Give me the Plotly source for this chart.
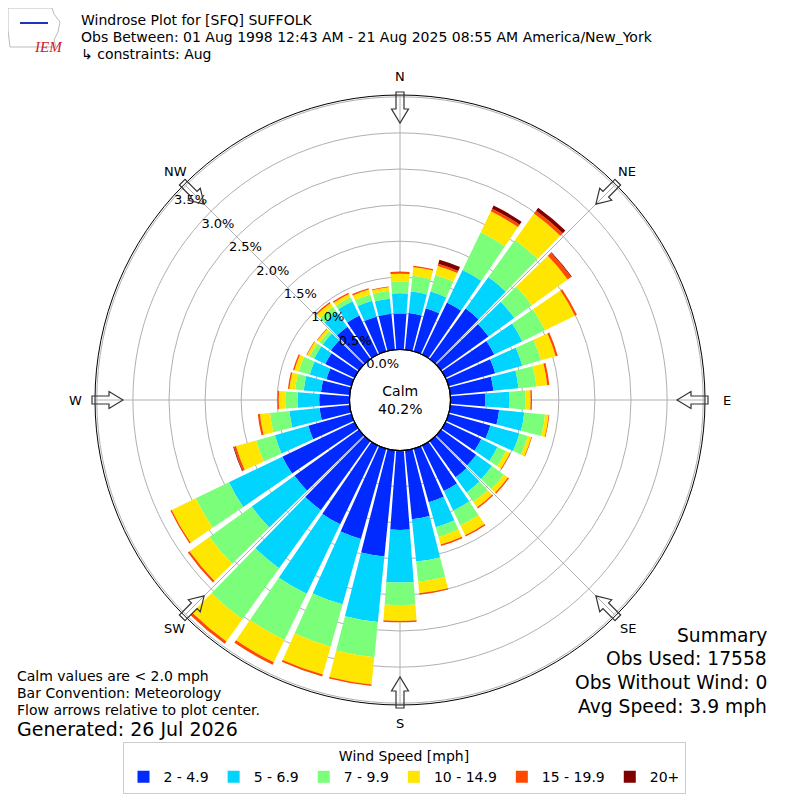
import math
import plotly.graph_objects as go

# wind directions (deg, meteorological) and percent of obs per speed bin
directions = list(range(0, 360, 10))

spd_2_5 = [0.50, 0.51, 0.62, 0.80, 0.86, 0.81, 0.75, 0.67, 0.60, 0.48, 0.68, 0.60,
           0.55, 0.60, 0.62, 0.70, 0.77, 0.96, 1.10, 1.48, 1.30, 1.21, 1.18, 1.10,
           1.11, 0.62, 0.42, 0.42, 0.40, 0.36, 0.45, 0.48, 0.55, 0.60, 0.50, 0.50]
spd_5_7 = [0.28, 0.30, 0.24, 0.50, 0.54, 0.44, 0.43, 0.39, 0.35, 0.34, 0.35, 0.42,
           0.25, 0.27, 0.26, 0.30, 0.36, 0.59, 0.73, 0.91, 0.94, 1.07, 0.99, 0.73,
           0.82, 0.48, 0.42, 0.30, 0.24, 0.24, 0.17, 0.14, 0.25, 0.22, 0.23, 0.21]
spd_7_10 = [0.16, 0.22, 0.24, 0.58, 0.63, 0.30, 0.35, 0.27, 0.25, 0.22, 0.29, 0.12,
            0.13, 0.20, 0.16, 0.23, 0.14, 0.28, 0.31, 0.49, 0.61, 0.71, 0.87, 0.72,
            0.51, 0.27, 0.27, 0.17, 0.12, 0.16, 0.07, 0.05, 0.09, 0.06, 0.09, 0.11]
spd_10_15 = [0.11, 0.12, 0.13, 0.32, 0.45, 0.61, 0.46, 0.21, 0.15, 0.07, 0.05, 0.05,
             0.06, 0.07, 0.09, 0.15, 0.11, 0.16, 0.22, 0.38, 0.40, 0.34, 0.38, 0.34,
             0.37, 0.29, 0.14, 0.09, 0.08, 0.06, 0.04, 0.04, 0.06, 0.05, 0.07, 0.05]
spd_15_20 = [0.03, 0.02, 0.03, 0.04, 0.05, 0.06, 0.03, 0.03, 0.03, 0.02, 0.01, 0.01,
             0.01, 0.02, 0.02, 0.02, 0.02, 0.02, 0.02, 0.02, 0.03, 0.04, 0.04, 0.03,
             0.02, 0.03, 0.03, 0.02, 0.02, 0.02, 0.01, 0.01, 0.02, 0.02, 0.02, 0.01]
spd_20p = [0.00, 0.00, 0.06, 0.05, 0.05, 0.01, 0.00, 0.00, 0.00, 0.00, 0.00, 0.00,
           0.00, 0.00, 0.00, 0.00, 0.00, 0.00, 0.00, 0.00, 0.00, 0.00, 0.00, 0.00,
           0.00, 0.01, 0.00, 0.00, 0.00, 0.00, 0.00, 0.00, 0.00, 0.00, 0.00, 0.00]

bin_labels = ["2 - 4.9", "5 - 6.9", "7 - 9.9", "10 - 14.9", "15 - 19.9", "20+"]
bin_colors = ["#002aff", "#00d4ff", "#7bff7b", "#ffe600", "#ff4800", "#800000"]
series = [spd_2_5, spd_5_7, spd_7_10, spd_10_15, spd_15_20, spd_20p]

rticks = [0.0, 0.5, 1.0, 1.5, 2.0, 2.5, 3.0, 3.5]
compass = ["N", "NE", "E", "SE", "S", "SW", "W", "NW"]
calm_pct = 40.2

# page has an 8px body margin, so the figure is 792 px and sits at (8, 8)
OFF = 8
W = 792
cx, cy = 400, 400
R = 305
hole_px = 50.5
rmax = 3.525
rlabel_angle = 139.5


def to_paper(px, py):
    return (px - OFF) / W, 1 - (py - OFF) / W


fig = go.Figure()
for vals, lab, col in zip(series, bin_labels, bin_colors):
    fig.add_trace(go.Barpolar(
        r=vals, theta=directions, width=8.6, name=lab,
        marker=dict(color=col, line=dict(width=0)),
    ))

dx0, dy1 = to_paper(cx - R, cy - R)
dx1, dy0 = to_paper(cx + R, cy + R)
fig.update_layout(
    width=W, height=W,
    margin=dict(l=0, r=0, t=0, b=0),
    paper_bgcolor="white",
    font=dict(family="DejaVu Sans", size=14, color="black"),
    polar=dict(
        domain=dict(x=[dx0, dx1], y=[dy0, dy1]),
        hole=hole_px / R,
        bgcolor="white",
        barmode="stack",
        angularaxis=dict(
            rotation=90, direction="clockwise",
            tickvals=list(range(0, 360, 45)), showticklabels=False, ticks="",
            showgrid=True, gridcolor="#b0b0b0", gridwidth=1,
            showline=True, linecolor="black", linewidth=1,
        ),
        radialaxis=dict(
            range=[0, rmax], tickvals=rticks,
            ticktext=["%.1f%%" % t for t in rticks],
            showline=False, ticks="", angle=rlabel_angle, tickangle=rlabel_angle,
            side="clockwise",
            gridcolor="#b0b0b0", gridwidth=1,
            tickfont=dict(size=13, color="black"),
        ),
    ),
    legend=dict(
        orientation="h", x=0.5, xanchor="center", y=to_paper(0, 742)[1], yanchor="top",
        bordercolor="#cccccc", borderwidth=1, bgcolor="white",
        font=dict(size=14),
        title=dict(text="Wind Speed [mph]", side="top center", font=dict(size=14)),
        traceorder="normal",
    ),
)

# calm circle edge
hx0, hy1 = to_paper(cx - hole_px, cy - hole_px)
hx1, hy0 = to_paper(cx + hole_px, cy + hole_px)
fig.add_shape(type="circle", xref="paper", yref="paper",
              x0=hx0, x1=hx1, y0=hy0, y1=hy1,
              line=dict(color="black", width=1.2))
mx, my = to_paper(cx, cy)
fig.add_annotation(x=mx, y=my, xref="paper", yref="paper",
                   text="Calm<br>%.1f%%" % calm_pct, showarrow=False,
                   font=dict(size=14))

# compass labels and hollow flow arrows
for i, lab in enumerate(compass):
    ang = math.radians(i * 45)
    s, c = math.sin(ang), math.cos(ang)
    lr = 333 if i % 2 == 0 else 337
    lx, ly = to_paper(cx + lr * s, cy - lr * c)
    fig.add_annotation(x=lx, y=ly, xref="paper", yref="paper", text=lab,
                       showarrow=False, font=dict(size=13))
    pts = [(308, -4), (291, -4), (291, -8.5), (277, 0), (291, 8.5), (291, 4), (308, 4)]
    path = ""
    for k, (rr, ww) in enumerate(pts):
        X, Y = to_paper(cx + rr * s + ww * c, cy - rr * c + ww * s)
        path += ("M" if k == 0 else "L") + "%.5f,%.5f " % (X, Y)
    path += "Z"
    fig.add_shape(type="path", xref="paper", yref="paper", path=path,
                  line=dict(color="#333333", width=1.2), fillcolor="rgba(0,0,0,0)")

# header text
header = ["Windrose Plot for [SFQ] SUFFOLK",
          "Obs Between: 01 Aug 1998 12:43 AM - 21 Aug 2025 08:55 AM America/New_York",
          "\u21b3 constraints: Aug"]
for k, t in enumerate(header):
    X, Y = to_paper(79, 20 + 17 * k)
    fig.add_annotation(x=X, y=Y, xref="paper", yref="paper",
                       text=t, showarrow=False, xanchor="left", yanchor="middle",
                       font=dict(size=14))

# IEM logo (simplified)
logo = [(8, 8), (52, 8), (54, 14), (60, 22), (58, 32), (54, 40), (56, 47), (10, 47), (8, 30)]
lp = ""
for k, (px, py) in enumerate(logo):
    X, Y = to_paper(px, py)
    lp += ("M" if k == 0 else "L") + "%.5f,%.5f " % (X, Y)
fig.add_shape(type="path", xref="paper", yref="paper", path=lp + "Z",
              line=dict(color="#bbbbbb", width=1))
x0, y0 = to_paper(20, 23)
x1, y1 = to_paper(48, 23)
fig.add_shape(type="line", xref="paper", yref="paper", x0=x0, y0=y0, x1=x1, y1=y1,
              line=dict(color="#2233bb", width=2))
X, Y = to_paper(32, 37)
fig.add_annotation(x=X, y=Y, xref="paper", yref="paper",
                   text="<i>IEM</i>", showarrow=False,
                   font=dict(size=15, color="#cc2222", family="Liberation Serif"))

# footer text
notes = ["Calm values are < 2.0 mph", "Bar Convention: Meteorology",
         "Flow arrows relative to plot center."]
for k, t in enumerate(notes):
    X, Y = to_paper(15, 676 + 17 * k)
    fig.add_annotation(x=X, y=Y, xref="paper", yref="paper",
                       text=t, showarrow=False, xanchor="left", yanchor="middle",
                       font=dict(size=14))
X, Y = to_paper(15, 729)
fig.add_annotation(x=X, y=Y, xref="paper", yref="paper",
                   text="Generated: 26 Jul 2026", showarrow=False,
                   xanchor="left", yanchor="middle", font=dict(size=19))

summary = ["Summary", "Obs Used: 17558", "Obs Without Wind: 0", "Avg Speed: 3.9 mph"]
for k, t in enumerate(summary):
    X, Y = to_paper(769, 635 + 23.7 * k)
    fig.add_annotation(x=X, y=Y, xref="paper", yref="paper",
                       text=t, showarrow=False, xanchor="right", yanchor="middle",
                       font=dict(size=18.7))

fig.write_html("out.html")
